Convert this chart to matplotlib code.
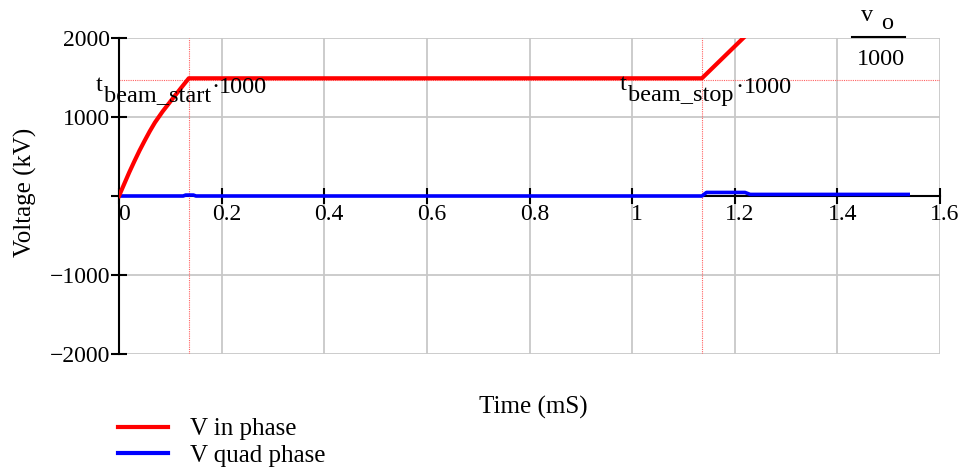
import matplotlib
matplotlib.use("Agg")
import matplotlib.pyplot as plt
import matplotlib.transforms as mtransforms
from matplotlib.lines import Line2D

# ---- data ----
t_in = [0, 0.01, 0.02, 0.03, 0.04, 0.05, 0.06, 0.07, 0.085, 0.1, 0.12, 0.136, 1.136, 1.223, 1.538]
v_in = [0, 150, 300, 440, 575, 700, 820, 930, 1070, 1195, 1360, 1490, 1490, 2040, 4060]
t_quad = [0, 0.125, 0.13, 0.145, 0.15, 1.136, 1.145, 1.22, 1.23, 1.538]
v_quad = [0, 0, 12, 12, 0, 0, 45, 45, 20, 20]
t_beam_start = 0.136
t_beam_stop = 1.136
v_marker = 1468
x_ticks = [0, 0.2, 0.4, 0.6, 0.8, 1.0, 1.2, 1.4, 1.6]
x_tick_labels = ["0", "0.2", "0.4", "0.6", "0.8", "1", "1.2", "1.4", "1.6"]
y_ticks = [-2000, -1000, 0, 1000, 2000]
y_tick_labels = ["\u22122000", "\u22121000", "", "1000", "2000"]
series_labels = ["V in phase", "V quad phase"]

plt.rcParams['font.family'] = ['Liberation Serif', 'DejaVu Serif']
FS = 17
FL = 18
FA = 17.5
W, H = 964, 474
fig = plt.figure(figsize=(W / 100, H / 100), dpi=100)
ax = fig.add_axes([119 / W, 1 - 354 / H, (940 - 119) / W, (354 - 38) / H])

ax.set_xlim(0, 1.6)
ax.set_ylim(-2000, 2000)

ax.grid(True, color='#c8c8c8', lw=1.3, zorder=0)
ax.set_axisbelow(True)

ax.spines['top'].set_visible(False)
ax.spines['right'].set_visible(False)
ax.spines['bottom'].set_position(('data', 0))
ax.spines['bottom'].set_linewidth(1.5)
ax.spines['left'].set_linewidth(1.5)
ax.spines['bottom'].set_zorder(1)

ax.set_xticks(x_ticks)
ax.set_xticklabels(x_tick_labels)
ax.set_yticks(y_ticks)
ax.set_yticklabels(y_tick_labels)
ax.tick_params(axis='both', direction='inout', length=11, width=1.5, labelsize=FS)
ax.tick_params(axis='x', pad=0)
ax.tick_params(axis='y', pad=1)
off = mtransforms.ScaledTranslation(5 / 100, 0, fig.dpi_scale_trans)
for lab in ax.get_xticklabels():
    lab.set_transform(lab.get_transform() + off)

# marker lines
mk = dict(color='#ff6060', lw=0.8, ls=(0, (1, 1)), zorder=2)
ax.axvline(t_beam_start, **mk)
ax.axvline(t_beam_stop, **mk)
ax.axhline(v_marker, **mk)

ax.plot(t_in, v_in, color='#ff0000', lw=3, zorder=4, label=series_labels[0])
ax.plot(t_quad, v_quad, color='#0000ff', lw=2.6, zorder=3, label=series_labels[1])

ax.set_xlabel("Time (mS)", fontsize=FL)
ax.xaxis.set_label_coords(533 / W, 1 - 396 / H, transform=fig.transFigure)
ax.set_ylabel("Voltage (kV)", fontsize=FL)
ax.yaxis.set_label_coords(37 / W, 1 - 192 / H, transform=fig.transFigure)

leg = ax.legend(loc='upper left', bbox_to_anchor=(118 / W, 1 - 418 / H),
                bbox_transform=fig.transFigure, frameon=False, fontsize=FL,
                handlelength=2.0, handletextpad=0.9, labelspacing=0.15,
                borderpad=0, borderaxespad=0)
for l in leg.get_lines():
    l.set_linewidth(3)

def ftext(x, y, s, fs=FA, **kw):
    fig.text(x / W, 1 - y / H, s, fontsize=fs, va='baseline', **kw)

# annotation t_beam_start*1000
ftext(96, 91, "t")
ftext(104, 101, "beam_start")
ftext(211, 93, "\u00b7")
ftext(219, 93, "1000")
# annotation t_beam_stop*1000
ftext(620, 90, "t")
ftext(628, 101, "beam_stop")
ftext(735, 93, "\u00b7")
ftext(744, 93, "1000")
# v_o / 1000
ftext(861, 21, "v")
ftext(881, 29, "o")
fig.add_artist(Line2D([852 / W, 905 / W], [1 - 37 / H, 1 - 37 / H], color='black', lw=1.5))
ftext(881, 65, "1000", ha='center')

fig.savefig("out.png", dpi=100)
